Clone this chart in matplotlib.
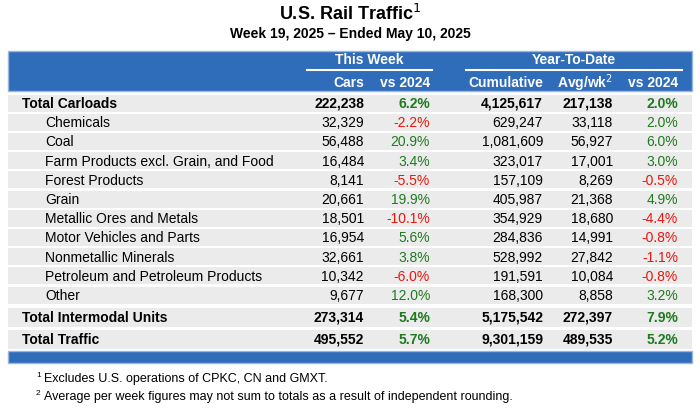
import matplotlib
matplotlib.use('Agg')
import matplotlib.pyplot as plt
from matplotlib.patches import Rectangle

plt.rcParams['font.family'] = ['Liberation Sans', 'DejaVu Sans']

#%% data
labels = ['Total Carloads', 'Chemicals', 'Coal', 'Farm Products excl. Grain, and Food',
          'Forest Products', 'Grain', 'Metallic Ores and Metals', 'Motor Vehicles and Parts',
          'Nonmetallic Minerals', 'Petroleum and Petroleum Products', 'Other',
          'Total Intermodal Units', 'Total Traffic']
cars = ['222,238', '32,329', '56,488', '16,484', '8,141', '20,661', '18,501', '16,954',
        '32,661', '10,342', '9,677', '273,314', '495,552']
week_pct = [6.2, -2.2, 20.9, 3.4, -5.5, 19.9, -10.1, 5.6, 3.8, -6.0, 12.0, 5.4, 5.7]
cumulative = ['4,125,617', '629,247', '1,081,609', '323,017', '157,109', '405,987', '354,929',
              '284,836', '528,992', '191,591', '168,300', '5,175,542', '9,301,159']
avg_wk = ['217,138', '33,118', '56,927', '17,001', '8,269', '21,368', '18,680', '14,991',
          '27,842', '10,084', '8,858', '272,397', '489,535']
ytd_pct = [2.0, 2.0, 6.0, 3.0, -0.5, 4.9, -4.4, -0.8, -1.1, -0.8, 3.2, 7.9, 5.2]
bold_rows = [0, 11, 12]

#%% layout
W, H = 700, 410
fig = plt.figure(figsize=(W / 100, H / 100), dpi=100)
ax = fig.add_axes([0, 0, 1, 1])
ax.set_xlim(0, W)
ax.set_ylim(H, 0)
ax.axis('off')

blue = '#2f6cb9'
gray = '#ebebeb'
green = '#1f7a1f'
red = '#e8170f'
fs = 10

ax.text(350, 14, 'U.S. Rail Traffic$^{1}$', ha='center', va='center', fontsize=13, fontweight='bold')
ax.text(350, 34, 'Week 19, 2025 \u2013 Ended May 10, 2025', ha='center', va='center',
        fontsize=10, fontweight='bold')

# header
ax.add_patch(Rectangle((8, 52), 684, 40, color=blue, ec='#9ab8de', lw=1))
ax.text(369, 60, 'This Week', ha='center', va='center', color='white', fontsize=fs, fontweight='bold')
ax.text(574, 60, 'Year-To-Date', ha='center', va='center', color='white', fontsize=fs, fontweight='bold')
ax.plot([307, 432], [71, 71], color='white', lw=1.5)
ax.plot([466, 682], [71, 71], color='white', lw=1.5)
col_x = [364, 430, 543, 613, 678]
heads = ['Cars', 'vs 2024', 'Cumulative', 'Avg/wk$^{2}$', 'vs 2024']
for x, h in zip(col_x, heads):
    ax.text(x, 83, h, ha='right', va='center', color='white', fontsize=fs, fontweight='bold')

# rows
centers = [104 + 19.2 * i for i in range(11)] + [318, 340]
for i, lab in enumerate(labels):
    y = centers[i]
    b = i in bold_rows
    hgt = 19 if i >= 11 else 17
    ax.add_patch(Rectangle((8, y - hgt / 2), 684, hgt, color=gray, lw=0))
    wt = 'bold' if b else 'normal'
    ax.text(22 if b else 45, y, lab, ha='left', va='center', fontsize=fs, fontweight=wt)
    vals = [cars[i], week_pct[i], cumulative[i], avg_wk[i], ytd_pct[i]]
    for j, (x, v) in enumerate(zip(col_x, vals)):
        if j in (1, 4):
            ax.text(x, y, '%.1f%%' % v, ha='right', va='center', fontsize=fs, fontweight=wt,
                    color=green if v >= 0 else red)
        else:
            ax.text(x, y, v, ha='right', va='center', fontsize=fs, fontweight=wt)

ax.add_patch(Rectangle((8, 352), 684, 12, color=blue, ec='#9ab8de', lw=1))

ax.text(36, 376, '1', fontsize=6, va='center')
ax.text(44, 379, 'Excludes U.S. operations of CPKC, CN and GMXT.', fontsize=9, va='center')
ax.text(36, 394, '2', fontsize=6, va='center')
ax.text(44, 397, 'Average per week figures may not sum to totals as a result of independent rounding.',
        fontsize=9, va='center')

fig.savefig('out.png', dpi=100)
